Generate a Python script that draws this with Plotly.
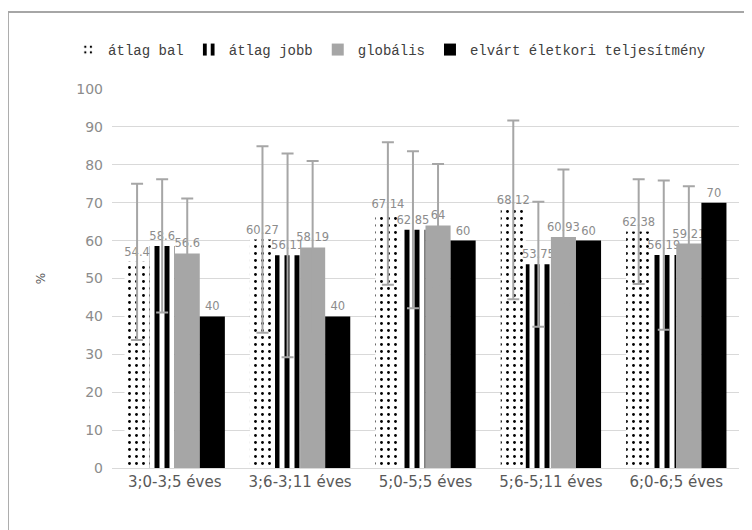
import plotly.graph_objects as go

categories = ["3;0-3;5 éves", "3;6-3;11 éves", "5;0-5;5 éves", "5;6-5;11 éves", "6;0-6;5 éves"]

atlag_bal = [54.4, 60.27, 67.14, 68.12, 62.38]
atlag_bal_err = [20.6, 24.6, 18.8, 23.6, 13.8]
atlag_jobb = [58.6, 56.11, 62.85, 53.75, 56.19]
atlag_jobb_err = [17.6, 26.9, 20.7, 16.5, 19.7]
globalis = [56.6, 58.19, 64, 60.93, 59.21]
globalis_err = [14.5, 22.8, 16.2, 17.8, 15.1]
elvart = [40, 40, 60, 60, 70]

series_names = ["átlag bal", "átlag jobb", "globális", "elvárt életkori teljesítmény"]

label_font = dict(family="DejaVu Sans", size=11.5, color="#8c8c8c")
err_style = dict(type="data", color="#a6a6a6", thickness=2, width=6)

fig = go.Figure()
fig.add_trace(go.Bar(
    name=series_names[0], x=categories, y=atlag_bal,
    marker=dict(color="white", line=dict(width=0),
                pattern=dict(shape=".", fgcolor="black", bgcolor="white", fgopacity=1,
                             size=7, solidity=0.13)),
    error_y=dict(array=atlag_bal_err, **err_style),
    text=[str(v) for v in atlag_bal], textposition="outside", textfont=label_font,
    constraintext="none", cliponaxis=False,
))
fig.add_trace(go.Bar(
    name=series_names[1], x=categories, y=atlag_jobb,
    marker=dict(color="white", line=dict(width=0),
                pattern=dict(shape="|", fgcolor="black", bgcolor="white", fgopacity=1,
                             size=10, solidity=0.5)),
    error_y=dict(array=atlag_jobb_err, **err_style),
    text=[str(v) for v in atlag_jobb], textposition="outside", textfont=label_font,
    constraintext="none", cliponaxis=False,
))
fig.add_trace(go.Bar(
    name=series_names[2], x=categories, y=globalis,
    marker=dict(color="#a6a6a6", line=dict(width=0)),
    error_y=dict(array=globalis_err, **err_style),
    text=[str(v) for v in globalis], textposition="outside", textfont=label_font,
    constraintext="none", cliponaxis=False,
))
fig.add_trace(go.Bar(
    name=series_names[3], x=categories, y=elvart,
    marker=dict(color="black", line=dict(width=0)),
    text=[str(v) for v in elvart], textposition="outside", textfont=label_font,
    constraintext="none", cliponaxis=False,
))

fig.update_layout(
    width=752, height=530,
    margin=dict(l=104, r=21, t=81, b=70),
    paper_bgcolor="white", plot_bgcolor="white",
    barmode="group", bargap=0.2, bargroupgap=0.0,
    showlegend=True,
    legend=dict(orientation="h", x=-0.07, xanchor="left", y=1.103, yanchor="middle",
                font=dict(family="Liberation Mono", size=14, color="#404040"),
                itemwidth=30, tracegroupgap=0, traceorder="normal"),
    font=dict(family="DejaVu Sans", color="#595959"),
    xaxis=dict(showgrid=False, showline=True, linecolor="#d9d9d9", linewidth=1,
               ticks="", tickfont=dict(family="DejaVu Sans", size=15, color="#595959")),
    yaxis=dict(range=[0, 100], dtick=10, showgrid=True, gridcolor="#d9d9d9", gridwidth=1,
               zeroline=False, ticks="", ticklabelstandoff=8,
               tickfont=dict(family="DejaVu Sans", size=14, color="#8c8c8c"),
               title=dict(text="%", font=dict(family="DejaVu Sans", size=12, color="#595959"),
                          standoff=28)),
    shapes=[dict(type="rect", xref="paper", yref="paper", x0=-0.166, x1=1.06, y0=-0.22, y1=1.203,
                 line=dict(color="#a6a6a6", width=2), fillcolor="rgba(0,0,0,0)", layer="below")],
)

fig.write_html("out.html")
